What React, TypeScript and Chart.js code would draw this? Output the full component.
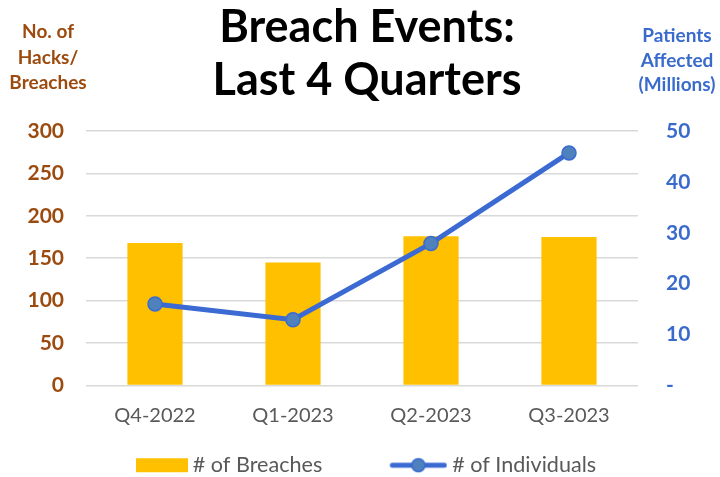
import React, { useEffect, useRef } from 'react';
import { Chart, registerables } from 'chart.js';

Chart.register(...registerables);

const quarters = ['Q4-2022', 'Q1-2023', 'Q2-2023', 'Q3-2023'];
const breaches = [168, 145, 176, 175];
const individuals = [16.0, 12.9, 27.9, 45.7];
const titleLines = ['Breach Events:', 'Last 4 Quarters'];
const leftAxisTitle = ['No. of', 'Hacks/', 'Breaches'];
const rightAxisTitle = ['Patients', 'Affected', '(Millions)'];
const legendNames = ['# of Breaches', '# of Individuals'];
const leftMax = 300;
const leftStep = 50;
const rightMax = 50;
const rightStep = 10;

const BROWN = '#9C4A0E';
const BLUE = '#3A6BCC';
const BAR = '#FFC000';
const LINE = '#3A6AD2';
const POINT = '#4F81BD';
const GREY = '#595959';
const FONT = 'Lato, "Open Sans", sans-serif';

const PAD_L = 26;
const PAD_R = 12;
const LEG_FONT = 21.6;
const LEG_PAD = 20;
const LEG_BOX = 99;
const LEG_LEFT = 63;

function makeSwatch(kind: 'bar' | 'line'): HTMLCanvasElement {
  const w = Math.round(LEG_BOX + LEG_FONT / 2 + 1);
  const c = document.createElement('canvas');
  c.width = w;
  c.height = 20;
  const g = c.getContext('2d')!;
  if (kind === 'bar') {
    g.fillStyle = BAR;
    g.fillRect(w - 52, 3, 52, 14);
  } else {
    const x0 = w - 58;
    g.strokeStyle = LINE;
    g.lineWidth = 5;
    g.lineCap = 'round';
    g.beginPath();
    g.moveTo(x0 + 3, 10);
    g.lineTo(x0 + 55, 10);
    g.stroke();
    g.beginPath();
    g.arc(x0 + 29, 10, 6.5, 0, Math.PI * 2);
    g.fillStyle = POINT;
    g.fill();
    g.lineWidth = 1.5;
    g.strokeStyle = LINE;
    g.stroke();
  }
  return c;
}

const axisTitlePlugin = {
  id: 'axisTitles',
  afterLayout(chart: any) {
    const lg = chart.legend;
    if (lg) {
      const w = lg.right - lg.left;
      lg.left = LEG_LEFT;
      lg.right = LEG_LEFT + w;
    }
  },
  afterDraw(chart: any) {
    const ctx = chart.ctx;
    const area = chart.chartArea;
    ctx.save();
    ctx.font = `bold 19px ${FONT}`;
    ctx.textAlign = 'center';
    ctx.textBaseline = 'middle';
    ctx.fillStyle = BROWN;
    leftAxisTitle.forEach((t, i) => {
      ctx.fillText(t, area.left - 38, 32 + i * 25.5);
    });
    ctx.fillStyle = BLUE;
    rightAxisTitle.forEach((t, i) => {
      ctx.fillText(t, area.right + 39, 36 + i * 24.5);
    });
    ctx.restore();
  },
};

export default function App() {
  const ref = useRef<HTMLCanvasElement | null>(null);
  useEffect(() => {
    if (!ref.current) return;
    const barSwatch = makeSwatch('bar');
    const lineSwatch = makeSwatch('line');
    const chart = new Chart(ref.current, {
      type: 'bar',
      data: {
        labels: quarters,
        datasets: [
          {
            type: 'line',
            label: legendNames[1],
            data: individuals,
            yAxisID: 'y1',
            borderColor: LINE,
            borderWidth: 5,
            pointRadius: 7,
            pointBackgroundColor: POINT,
            pointBorderColor: LINE,
            pointBorderWidth: 1.5,
            tension: 0,
            order: 0,
          } as any,
          {
            type: 'bar',
            label: legendNames[0],
            data: breaches,
            yAxisID: 'y',
            backgroundColor: BAR,
            categoryPercentage: 1,
            barPercentage: 0.4,
            order: 1,
          },
        ],
      },
      options: {
        animation: false,
        responsive: false,
        maintainAspectRatio: false,
        layout: { padding: { left: PAD_L, right: PAD_R, top: 0, bottom: -9 } },
        plugins: {
          tooltip: { enabled: false },
          title: {
            display: true,
            text: titleLines,
            color: '#000000',
            font: { family: FONT, size: 45, weight: 'bold', lineHeight: 1.178 },
            padding: { top: 1, bottom: 24 },
          },
          legend: {
            position: 'bottom',
            align: 'start',
            labels: {
              usePointStyle: true,
              pointStyleWidth: LEG_BOX,
              color: GREY,
              padding: LEG_PAD,
              font: { family: FONT, size: LEG_FONT },
              generateLabels: () => [
                {
                  text: legendNames[0],
                  pointStyle: barSwatch,
                  fillStyle: BAR,
                  strokeStyle: BAR,
                  lineWidth: 0,
                  hidden: false,
                  datasetIndex: 1,
                  fontColor: GREY,
                } as any,
                {
                  text: legendNames[1],
                  pointStyle: lineSwatch,
                  fillStyle: POINT,
                  strokeStyle: LINE,
                  lineWidth: 0,
                  hidden: false,
                  datasetIndex: 0,
                  fontColor: GREY,
                } as any,
              ],
            },
          },
        },
        scales: {
          x: {
            grid: { display: false, drawTicks: false },
            border: { display: false },
            ticks: { color: GREY, font: { family: FONT, size: 20 }, padding: 18 },
            afterFit: (s: any) => { s.height = 49; },
          },
          y: {
            position: 'left',
            min: 0,
            max: leftMax,
            ticks: {
              stepSize: leftStep,
              color: BROWN,
              font: { family: FONT, size: 21, weight: 'bold' },
              padding: 22,
            },
            grid: { color: '#D9D9D9', lineWidth: 1.5, drawTicks: false },
            border: { display: false },
            afterFit: (s: any) => { s.width = 86 - PAD_L; },
          },
          y1: {
            position: 'right',
            min: 0,
            max: rightMax,
            ticks: {
              stepSize: rightStep,
              color: BLUE,
              font: { family: FONT, size: 21, weight: 'bold' },
              padding: 28,
              callback: (v: any) => (Number(v) === 0 ? '-' : String(v)),
            },
            grid: { display: false, drawTicks: false },
            border: { display: false },
            afterFit: (s: any) => { s.width = 82 - PAD_R; },
          },
        },
      } as any,
      plugins: [axisTitlePlugin],
    });
    return () => chart.destroy();
  }, []);
  return (
    <div style={{ position: 'absolute', left: 0, top: 0, width: 720, height: 477, background: '#fff' }}>
      <canvas ref={ref} width={720} height={477} style={{ display: 'block' }} />
    </div>
  );
}
